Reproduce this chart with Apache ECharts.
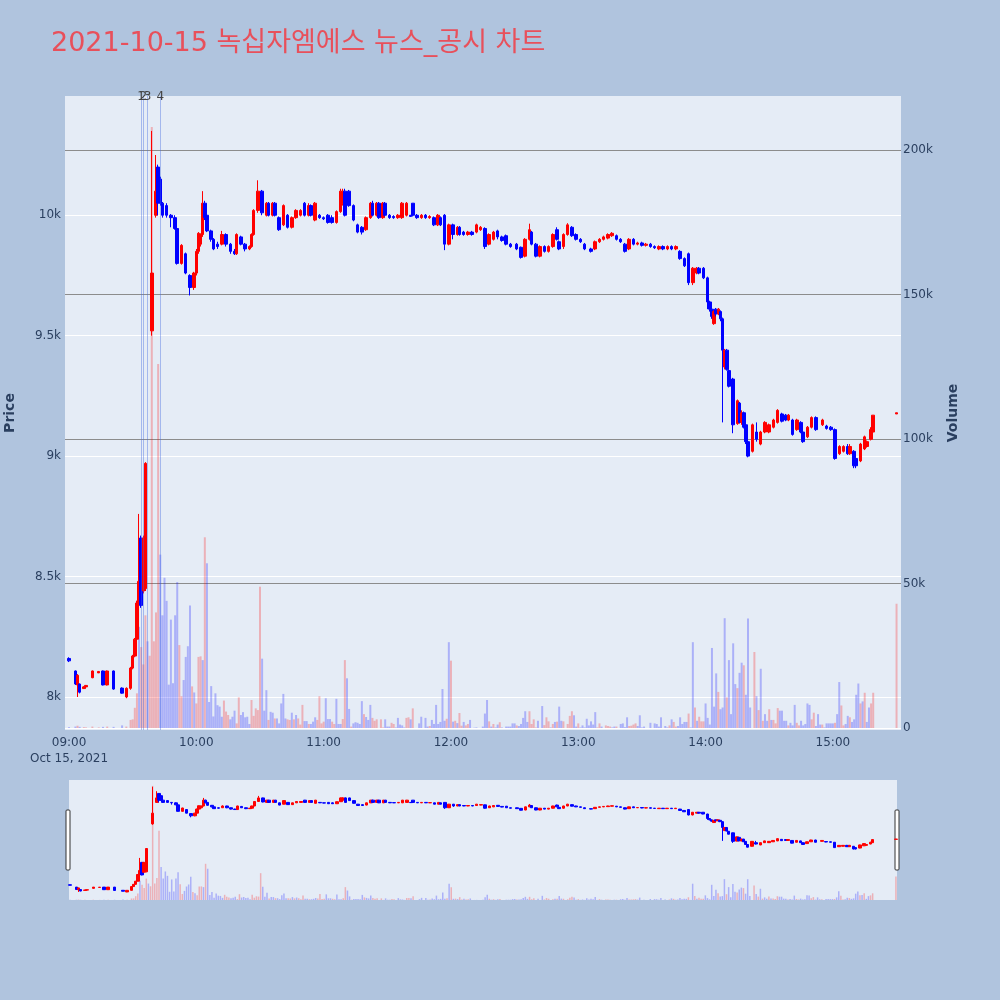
<!DOCTYPE html>
<html><head><meta charset="utf-8">
<script src="https://cdn.jsdelivr.net/npm/echarts@6/dist/echarts.min.js"></script>
<style>html,body{margin:0;padding:0;background:#b0c4de}#c{width:1000px;height:1000px}</style>
</head><body><div id="c"></div>
<script>
const chartTitle = '2021-10-15 녹십자엠에스 뉴스_공시 차트';

// candle times (HH:MM) and [open, close, low, high]
const candleTimes = [
'09:00','09:03','09:04','09:05','09:07','09:08','09:11','09:14','09:16','09:18','09:21','09:25','09:27',
'09:29','09:30','09:31','09:32','09:33','09:34','09:35','09:36','09:39','09:41','09:42','09:43','09:44','09:46','09:48','09:50','09:51','09:53','09:55','09:57','09:59',
'10:00','10:01','10:02','10:03','10:04','10:05','10:07','10:08','10:10','10:12','10:14','10:16','10:18','10:19','10:21','10:23','10:25','10:26','10:27','10:29',
'10:31','10:33','10:34','10:36','10:37','10:39','10:41','10:43','10:45','10:47','10:49','10:51','10:53','10:54','10:56','10:58',
'11:00','11:02','11:04','11:06','11:08','11:09','11:10','11:12','11:14','11:16','11:18','11:20','11:22','11:23','11:25','11:26','11:28','11:29',
'11:31','11:33','11:35','11:37','11:39','11:41','11:42','11:44','11:46','11:48','11:50','11:52','11:54','11:55','11:57','11:59',
'12:01','12:03','12:04','12:06','12:08','12:10','12:12','12:14','12:16','12:18','12:20','12:22','12:24','12:26','12:28',
'12:31','12:33','12:35','12:37','12:38','12:40','12:42','12:44','12:46','12:48','12:50','12:51','12:53','12:55','12:57','12:59',
'13:01','13:03','13:06','13:08','13:10','13:12','13:14','13:16','13:18','13:20','13:22','13:24','13:26','13:28',
'13:30','13:32','13:34','13:36','13:38','13:40','13:42','13:44','13:46','13:48','13:50','13:52','13:54','13:56','13:57','13:59',
'14:01','14:02','14:03','14:04','14:05','14:06','14:07','14:08','14:09','14:10','14:11','14:13','14:15','14:16','14:17','14:18','14:19','14:20','14:22','14:24','14:26','14:28',
'14:30','14:32','14:34','14:36','14:38','14:39','14:41','14:43','14:45','14:46','14:48','14:50','14:52','14:55','14:57','14:59',
'15:01','15:03','15:05','15:07','15:08','15:10','15:11','15:13','15:15','15:16','15:18','15:19','15:30'
];
const candlePrices = [
[8160,8150,8145,8165],[8108,8054,8050,8110],[8050,8090,8000,8095],[8054,8020,8015,8056],[8035,8042,8035,8045],[8042,8048,8040,8050],[8080,8108,8078,8110],[8100,8106,8100,8108],[8108,8050,8048,8110],[8050,8108,8048,8110],[8108,8033,8030,8110],[8037,8016,8014,8040],[8000,8036,7995,8040],
[8036,8120,8030,8125],[8120,8170,8115,8175],[8170,8240,8165,8245],[8240,8390,8235,8400],[8390,8480,8380,8760],[8660,8380,8370,8670],[8440,8660,8430,8670],[8450,8970,8440,8975],[9520,9760,9500,10350],[10000,10100,9990,10250],[10200,10050,10000,10210],[10150,10050,10040,10160],[10050,10000,9990,10055],[10040,10000,9990,10050],[10000,9990,9950,10005],[9990,9945,9940,10000],[9945,9800,9795,9950],[9800,9875,9795,9880],[9840,9760,9755,9845],[9750,9700,9667,9755],[9700,9760,9690,9765],
[9760,9850,9750,9860],[9850,9925,9840,9930],[9880,9920,9870,9925],[9920,10050,9910,10100],[10050,9990,9980,10060],[10000,9935,9930,10010],[9935,9900,9890,9940],[9900,9860,9855,9905],[9880,9870,9860,9890],[9880,9920,9875,9935],[9920,9880,9870,9925],[9880,9850,9840,9885],[9850,9840,9835,9860],[9840,9920,9835,9925],[9910,9880,9875,9915],[9880,9860,9850,9885],[9860,9870,9855,9875],[9870,9920,9865,9925],[9920,10020,9915,10025],[10020,10100,10010,10145],
[10100,10010,10000,10105],[10000,10050,9995,10055],[10050,10000,9995,10055],[10000,10050,9995,10055],[10050,10000,9995,10055],[9990,9940,9935,9995],[9960,10040,9955,10045],[10000,9950,9945,10005],[9950,9990,9945,9995],[9990,10020,9985,10025],[10000,10020,9995,10025],[10050,10000,9995,10055],[10000,10040,9995,10050],[10040,10000,9995,10045],[9980,10050,9975,10055],[10000,9990,9985,10005],
[9990,9985,9980,9995],[10000,9970,9965,10005],[9990,9970,9965,10000],[9970,10015,9965,10020],[10015,10100,10010,10110],[10050,10100,10040,10110],[10100,10000,9995,10110],[10100,10040,10035,10105],[10040,9980,9975,10045],[9960,9930,9925,9965],[9950,9930,9920,9955],[9940,9990,9935,9995],[9990,10050,9985,10055],[10050,10000,9995,10060],[10000,10050,9995,10055],[10050,9990,9985,10055],[9990,10050,9985,10055],[10050,10000,9995,10055],
[10000,9990,9985,10005],[9995,9990,9985,10000],[9990,10000,9985,10005],[9990,10050,9985,10055],[10000,10050,9995,10055],[10000,9995,9995,10000],[10050,10000,9995,10050],[10000,9990,9985,10005],[9990,10000,9985,10005],[10000,9990,9985,10005],[9990,9995,9985,10000],[9990,9960,9955,9995],[9960,10000,9955,10005],[9990,9960,9955,9995],[10000,9880,9855,10005],[9880,9960,9875,9965],
[9960,9920,9900,9965],[9920,9950,9915,9955],[9950,9920,9915,9955],[9930,9920,9915,9935],[9920,9930,9915,9935],[9930,9920,9915,9935],[9930,9960,9925,9965],[9940,9950,9935,9955],[9945,9870,9860,9950],[9880,9920,9875,9925],[9900,9930,9895,9935],[9935,9910,9900,9940],[9910,9895,9890,9915],[9915,9880,9875,9920],[9880,9870,9865,9885],
[9880,9860,9855,9885],[9867,9825,9820,9870],[9830,9900,9825,9905],[9900,9940,9895,9965],[9930,9880,9875,9935],[9880,9830,9825,9885],[9830,9870,9825,9875],[9870,9850,9845,9875],[9850,9870,9845,9875],[9870,9920,9865,9925],[9940,9900,9895,9950],[9890,9860,9855,9895],[9870,9920,9860,9925],[9920,9960,9915,9967],[9950,9915,9910,9955],[9920,9900,9895,9925],
[9900,9890,9885,9905],[9880,9860,9855,9885],[9860,9850,9845,9865],[9860,9890,9855,9895],[9890,9900,9885,9905],[9900,9910,9895,9915],[9905,9920,9900,9925],[9915,9925,9910,9930],[9915,9900,9895,9920],[9900,9890,9885,9905],[9880,9850,9845,9885],[9860,9900,9855,9905],[9900,9880,9875,9905],[9880,9885,9875,9890],
[9885,9875,9870,9890],[9875,9880,9870,9885],[9880,9870,9865,9885],[9870,9865,9860,9875],[9860,9870,9855,9875],[9870,9860,9855,9875],[9860,9870,9855,9875],[9870,9860,9855,9875],[9860,9870,9855,9875],[9850,9820,9815,9855],[9820,9790,9785,9825],[9840,9720,9710,9845],[9720,9780,9710,9785],[9760,9780,9755,9785],[9780,9760,9755,9785],[9780,9740,9735,9785],
[9740,9640,9610,9745],[9640,9610,9600,9645],[9610,9580,9570,9615],[9550,9600,9545,9605],[9610,9590,9580,9615],[9590,9610,9585,9615],[9600,9570,9560,9605],[9570,9440,9140,9575],[9370,9440,9360,9445],[9440,9360,9355,9445],[9355,9290,9285,9360],[9320,9130,9095,9325],[9135,9230,9130,9235],[9220,9140,9135,9225],[9140,9180,9130,9190],[9180,9120,9115,9185],[9130,9060,9050,9135],[9060,9000,8995,9070],[9020,9130,9015,9135],[9100,9070,9060,9140],[9050,9100,9045,9105],[9100,9140,9095,9145],
[9100,9130,9095,9135],[9120,9150,9115,9155],[9140,9190,9135,9195],[9175,9145,9140,9180],[9170,9150,9145,9175],[9150,9170,9145,9175],[9150,9090,9085,9155],[9110,9150,9105,9155],[9140,9100,9095,9145],[9100,9060,9055,9105],[9080,9120,9075,9125],[9120,9160,9115,9165],[9160,9110,9105,9165],[9130,9150,9125,9155],[9125,9115,9110,9130],[9120,9110,9105,9125],
[9110,8990,8985,9115],[9010,9040,9005,9045],[9020,9040,9015,9045],[9040,9010,9005,9050],[9010,9040,9005,9050],[9020,8960,8950,9025],[8990,8960,8950,9000],[8980,9050,8975,9055],[9030,9080,9025,9085],[9040,9060,9035,9065],[9070,9110,9065,9120],[9100,9170,9095,9170],[9175,9180,9175,9180]
];

// per-minute volume (thousands) from 09:29, and direction (1 = up/red, 0 = down/blue)
const volStart = '09:29';
const volumes = [
2.8,3,7,12,35,28,22,39,30,25,
208,30,40,126,60,39,52,44,15,37.5,
15.5,39,50.5,28.7,11,16.6,24.6,28.3,42.4,14.4,
12.3,8.5,24.6,24.8,23.5,66,57,9,14.5,4,
12,7.9,7.4,3.9,9.5,5.7,4.5,3,3.9,6,
1.6,10.6,4.5,5.5,3.7,3.9,1.4,9.7,4.2,6.8,
6.2,48.9,24,6,13.1,2.8,5.6,5.3,3.3,3.3,
1.6,8.5,11.8,3.3,3,2.8,5.3,3,4.5,3.3,
1.2,8,2.4,2.4,1.4,1.4,2.2,3.7,2.8,11,
1.6,2.2,10.3,3.1,3.1,2.2,1.4,10.1,1.4,1.4,
3.1,23.5,17.2,6.6,0.5,1.6,2,1.8,1.4,9.3,
4.8,3.8,2.8,8,3.5,2.5,3,0,3,0.2,
3,0.5,0.5,1.8,1.4,0.2,3.5,1.2,0.9,0.2,
3.5,3.7,3,6.8,0,0,1.6,3.9,0,3.5,
0.5,0.7,2.8,1.4,8,1.4,2.1,13.5,2.5,3.2,
29.7,23.3,2.2,2.5,1.7,5.2,0.8,2.1,0.9,1.4,
2.8,0,0.1,0.2,0,0,0.5,5,9.7,2.3,
0.5,1.4,0.2,1.2,2,0.2,0,0.5,0.5,0.5,
1.6,1.6,0.9,0.7,1.4,3.5,5.8,2.1,5.8,1.4,
3,0.2,2.5,0,7.6,1,3.7,2.3,0.2,1.4,
2.1,2.2,7.4,2.5,2.3,0,1.4,4.2,5.8,4.4,
0.5,1.6,0.2,0.9,0.2,3.2,0.9,2.3,1.2,5.5,
0.2,1.6,0.5,0,0.9,0.7,0.5,0.2,0.5,0.5,
0,1.4,1.6,0.3,3.7,0.7,0.8,1.2,1.6,0.7,
4.4,0.2,0.5,0,0,1.8,0,1.6,1.4,0.5,
3.7,0,0.7,0.2,0.9,3,2.1,0.5,0.7,3.7,
1.4,2.1,2.1,5,0.2,29.7,7.1,2.5,3.9,2.3,
2.3,8.5,3.5,1.2,27.7,7.4,18.9,12.5,6.5,7.1,
38,10.6,23.5,4.8,29.3,15.2,13.8,19.1,22.6,21.7,
11.5,37.9,7.1,0,26.3,11,6.2,20.5,2.5,4.8,
2.5,6.5,2.8,2.8,1.6,6.9,6,6,2.5,2.5,
0.9,1.8,0.9,8,1.8,0.9,2.5,0.9,1.4,8.5,
8,3,5.3,0.7,4.8,1.2,1.2,0.2,1.6,1.6,
1.6,1.6,1.8,4.8,15.9,7.8,0.9,1.4,4.2,3.7,
2.1,3,11.5,15.4,8.5,9.2,12.2,2.1,7.1,8.5,
12.2
];
const volUp = [
1,1,1,1,0,1,1,1,0,1,
1,1,1,1,0,0,0,0,0,0,
0,0,0,1,1,0,0,0,0,1,
0,1,1,1,0,1,0,0,0,0,
0,0,0,0,1,1,1,0,0,0,
1,1,0,0,0,0,0,1,1,1,
1,1,0,0,0,1,0,0,1,0,
0,0,0,0,1,1,0,1,0,1,
1,1,0,0,1,0,0,0,1,1,
1,1,0,0,0,1,1,0,0,0,
1,1,0,0,1,0,0,0,0,0,
1,0,0,0,1,1,1,0,1,1,
0,0,0,1,1,0,0,0,0,0,
1,1,0,1,0,0,0,0,0,0,
0,1,0,0,0,0,0,0,0,1,
0,1,0,1,0,1,1,0,1,1,
0,1,0,0,0,0,0,0,0,1,
0,1,0,0,1,0,1,0,0,0,
0,0,1,0,0,0,0,0,1,1,
1,1,0,1,0,1,1,1,0,1,
0,1,0,0,1,0,1,1,1,0,
0,1,0,0,0,0,0,0,0,0,
1,1,0,0,1,1,1,0,0,1,
0,0,0,0,0,1,1,1,1,0,
0,0,0,0,0,0,0,0,0,0,
0,0,0,0,1,0,1,1,0,0,
0,0,0,1,0,0,1,0,1,1,
1,0,0,0,0,0,0,1,0,0,
0,1,0,0,0,0,1,0,0,1,
0,0,0,1,1,0,1,0,1,0,
0,1,0,1,1,1,0,0,0,0,
1,0,0,0,1,1,0,0,0,0,
0,1,1,0,0,0,1,0,0,0,
0,0,1,0,0,1,1,0,0,1,
0,0,0,0,1,0,1,0,0,1,
1
];
// sparse early trades and the closing auction
const extraVolTimes = ['09:00','09:03','09:04','09:05','09:07','09:08','09:11','09:14','09:16','09:18','09:21','09:25','09:27','15:30'];
const extraVol = [0.3,0.5,0.8,0.4,0.3,0.2,0.5,0.2,0.4,0.5,0.4,0.9,0.5,43];
const extraVolUp = [0,0,1,0,1,1,1,1,0,1,0,0,1,1];

const newsTimes = ['09:34','09:35','09:37','09:43'];
const newsLabels = ['1','2','3','4'];
const priceTicks = [8000,8500,9000,9500,10000];
const volTicks = [0,50,100,150,200];
const hourTicks = ['09:00','10:00','11:00','12:00','13:00','14:00','15:00'];

// x is measured in minutes since 09:00
function mins(hm){ const p = hm.split(':').map(Number); return (p[0]-9)*60 + p[1]; }
function hhmm(v){ const h = 9 + Math.floor(v/60), m = Math.round(v - (h-9)*60); return String(h).padStart(2,'0')+':'+String(m).padStart(2,'0'); }
const UP = '#ff0000', DOWN = '#0000ff';
const UPV = 'rgba(255,0,0,0.25)', DOWNV = 'rgba(0,0,255,0.25)';
const FONT = "'DejaVu Sans', Verdana, 'Noto Sans CJK KR', sans-serif";
const AX = '#2a3f5f';

const candleData = candleTimes.map((t,i)=>[mins(t)].concat(candlePrices[i]));
const volData = [];
volumes.forEach((v,i)=>volData.push({value:[mins(volStart)+i, v], itemStyle:{color: volUp[i]?UPV:DOWNV}}));
extraVolTimes.forEach((t,i)=>volData.push({value:[mins(t), extraVol[i]], itemStyle:{color: extraVolUp[i]?UPV:DOWNV}}));

const chart = echarts.init(document.getElementById('c'), null, {renderer:'canvas'});
const candleStyle = {color:UP, color0:DOWN, borderColor:UP, borderColor0:DOWN, borderWidth:1};
chart.setOption({
  animation:false,
  backgroundColor:'#b0c4de',
  textStyle:{fontFamily:FONT},
  title:{text:chartTitle, left:46, top:25, textStyle:{fontSize:27, fontWeight:'normal', color:'#e8505b', fontFamily:FONT}},
  grid:[
    {left:65, top:96, width:836, height:634, show:true, backgroundColor:'#e5ecf6', borderWidth:0, outerBoundsMode:'none', containLabel:false},
    {left:69, top:780, width:828, height:120, show:true, backgroundColor:'#e5ecf6', borderWidth:0, outerBoundsMode:'none', containLabel:false}
  ],
  xAxis:[
    {type:'value', gridIndex:0, min:-1.9, max:392.1,
     axisLine:{show:false}, axisTick:{show:false, customValues:hourTicks.map(mins)}, splitLine:{show:false},
     axisLabel:{customValues:hourTicks.map(mins), color:AX, fontSize:12, margin:5, lineHeight:16,
       formatter:(v)=> v===0 ? hhmm(v)+'\nOct 15, 2021' : hhmm(v)}},
    {type:'value', gridIndex:1, min:-0.5, max:390.5, show:false}
  ],
  yAxis:[
    {type:'value', gridIndex:0, position:'left', min:7863, max:10495,
     axisLine:{show:false}, axisTick:{show:false, customValues:priceTicks},
     splitLine:{show:true, lineStyle:{color:'#ffffff', width:1}},
     axisLabel:{customValues:priceTicks, color:AX, fontSize:12, margin:4, formatter:(v)=>(v/1000)+'k'},
     name:'Price', nameLocation:'middle', nameRotate:90, nameGap:48,
     nameTextStyle:{color:AX, fontSize:14, fontWeight:'bold'}},
    {type:'value', gridIndex:0, position:'right', min:-0.69, max:218.7,
     axisLine:{show:false}, axisTick:{show:false, customValues:volTicks},
     splitLine:{show:true, lineStyle:{color:['#ffffff','#8c8c8c','#8c8c8c','#8c8c8c','#8c8c8c'], width:1}},
     axisLabel:{customValues:volTicks, color:AX, fontSize:12, margin:2, formatter:(v)=>v===0?'0':v+'k'},
     name:'Volume', nameLocation:'middle', nameRotate:90, nameGap:45,
     nameTextStyle:{color:AX, fontSize:14, fontWeight:'bold'}},
    {type:'value', gridIndex:1, min:7820, max:10500, show:false},
    {type:'value', gridIndex:1, min:0, max:218.7, show:false}
  ],
  series:[
    {type:'bar', name:'vol', xAxisIndex:0, yAxisIndex:1, barWidth:2, data:volData, silent:true,
     markLine:{silent:true, symbol:['none','none'], lineStyle:{color:'rgba(65,105,225,0.4)', width:1, type:'solid'},
       label:{show:true, position:'end', distance:-7, color:'#444', fontSize:12, formatter:(p)=>p.name},
       data:newsTimes.map((t,i)=>({xAxis:mins(t), name:newsLabels[i]}))}},
    {type:'candlestick', name:'price', xAxisIndex:0, yAxisIndex:0, barWidth:3, data:candleData,
     encode:{x:0, y:[1,2,3,4]}, itemStyle:candleStyle, silent:true},
    {type:'bar', name:'vol2', xAxisIndex:1, yAxisIndex:3, barWidth:1.5, data:volData, silent:true},
    {type:'candlestick', name:'price2', xAxisIndex:1, yAxisIndex:2, barWidth:3, data:candleData,
     encode:{x:0, y:[1,2,3,4]}, itemStyle:candleStyle, silent:true}
  ],
  graphic:[
    {type:'rect', shape:{x:66, y:810, width:4, height:60, r:1}, style:{fill:'#fff', stroke:'#333', lineWidth:1}},
    {type:'rect', shape:{x:895, y:810, width:4, height:60, r:1}, style:{fill:'#fff', stroke:'#333', lineWidth:1}}
  ]
});
</script></body></html>
